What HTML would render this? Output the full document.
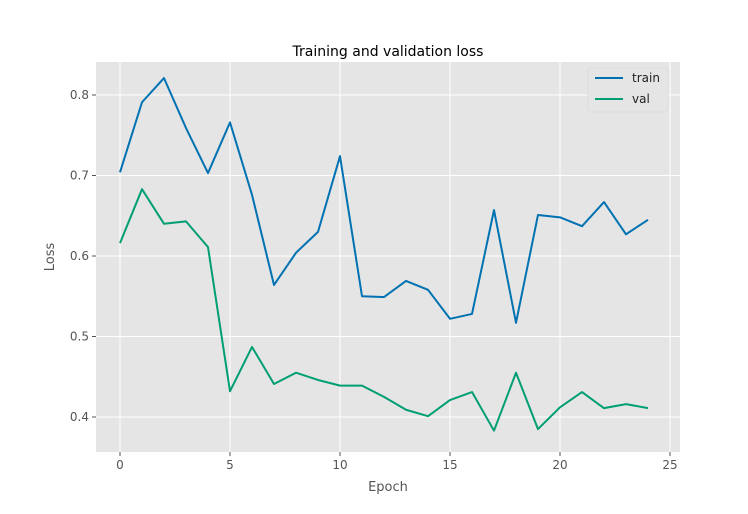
<!DOCTYPE html>
<html><head><meta charset="utf-8"><style>
body{margin:0;background:#fff;}
svg{display:block;font-family:"DejaVu Sans","Liberation Sans",sans-serif;}
</style></head><body>
<svg id="chart" width="748" height="514"></svg>
<script>
const epochs=[0,1,2,3,4,5,6,7,8,9,10,11,12,13,14,15,16,17,18,19,20,21,22,23,24];
const trainLoss=[0.704,0.791,0.821,0.759,0.703,0.766,0.676,0.564,0.604,0.630,0.724,0.550,0.549,0.569,0.558,0.522,0.528,0.657,0.517,0.651,0.648,0.637,0.667,0.627,0.645];
const valLoss=[0.616,0.683,0.640,0.643,0.611,0.432,0.487,0.441,0.455,0.446,0.439,0.439,0.425,0.409,0.401,0.421,0.431,0.383,0.455,0.385,0.412,0.431,0.411,0.416,0.411];
const xTicks=[0,5,10,15,20,25];
const yTicks=[0.4,0.5,0.6,0.7,0.8];
const NS="http://www.w3.org/2000/svg";
const svg=document.getElementById('chart');
const L=96,R=680,T=62,B=452;
const x=v=>120+(v-0)*22;
const y=v=>95+(0.8-v)*805;
function mk(tag,attrs,parent){const e=document.createElementNS(NS,tag);for(const k in attrs)e.setAttribute(k,attrs[k]);(parent||svg).appendChild(e);return e;}
const bg=mk('rect',{x:L,y:T,width:R-L,height:B-T,fill:'#e5e5e5'});


xTicks.forEach(t=>{
 const g=mk('line',{x1:x(t),x2:x(t),y1:T,y2:B,stroke:'#fff','stroke-width':1});
 
 
 mk('line',{x1:x(t),x2:x(t),y1:B,y2:B+4,stroke:'#555'});
 const tx=mk('text',{x:x(t),y:B+17,'text-anchor':'middle','font-size':12,fill:'#555'});
 tx.textContent=t;
 
 
});
yTicks.forEach(t=>{
 const g=mk('line',{x1:L,x2:R,y1:y(t),y2:y(t),stroke:'#fff','stroke-width':1});
 
 
 mk('line',{x1:L-4,x2:L,y1:y(t),y2:y(t),stroke:'#555'});
 const tx=mk('text',{x:L-7,y:y(t)+4,'text-anchor':'end','font-size':12,fill:'#555'});
 tx.textContent=t.toFixed(1);
 
 
});
function line(data,color,name){
 const p=mk('polyline',{points:data.map((v,i)=>x(epochs[i])+','+y(v)).join(' '),fill:'none',stroke:color,'stroke-width':2,'stroke-linejoin':'round'});
 
 
}
line(trainLoss,'#0072b2','train-line');
line(valLoss,'#009e73','val-line');
const title=mk('text',{x:(L+R)/2,y:56,'text-anchor':'middle','font-size':14,fill:'#000'});
title.textContent='Training and validation loss';


const xl=mk('text',{x:(L+R)/2,y:491,'text-anchor':'middle','font-size':13,fill:'#555'});
xl.textContent='Epoch';


const yl=mk('text',{x:0,y:0,'text-anchor':'middle','font-size':13,fill:'#555',transform:'translate(54,257) rotate(-90)'});
yl.textContent='Loss';


const lg=mk('g',{});


mk('rect',{x:588,y:68,width:80,height:44,fill:'#e5e5e5',stroke:'#ddd',rx:3},lg);
[['train','#0072b2',78],['val','#009e73',99]].forEach(([n,c,yy])=>{
 const s=mk('line',{x1:595,x2:623,y1:yy,y2:yy,stroke:c,'stroke-width':2},lg);
 
 
 const t=mk('text',{x:632,y:yy+4,'font-size':12,fill:'#222'},lg);
 t.textContent=n;
 
 
});
</script>
</body></html>
